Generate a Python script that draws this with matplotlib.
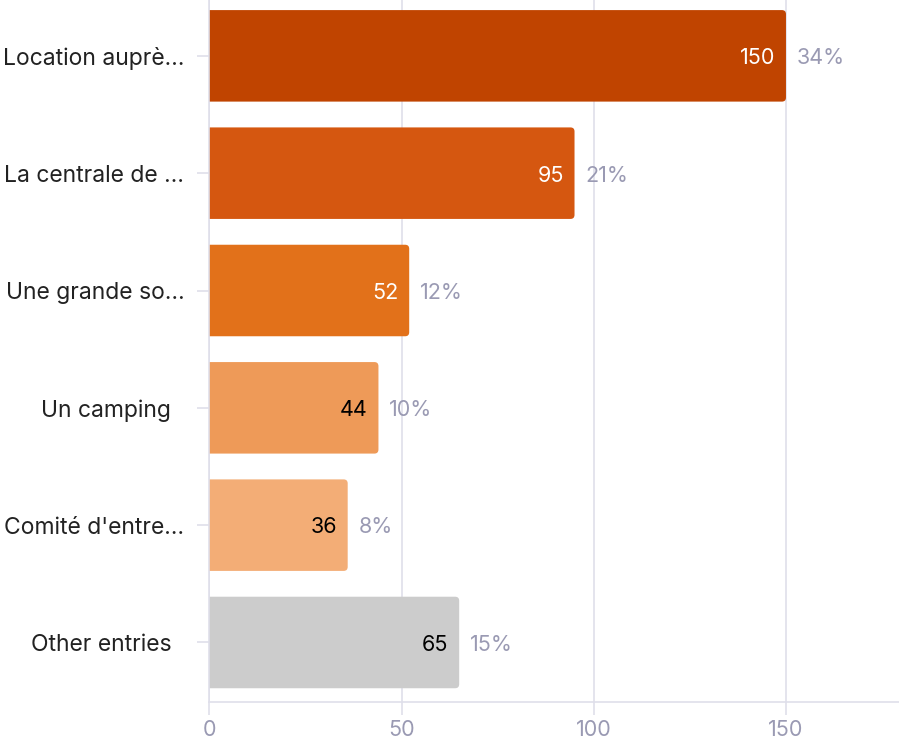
import numpy as np
import matplotlib
matplotlib.use("Agg")
import matplotlib.pyplot as plt
import matplotlib.transforms as mtransforms
from matplotlib.patches import FancyBboxPatch

categories = ["Location auprè…", "La centrale de …", "Une grande so…",
              "Un camping  ", "Comité d'entre…", "Other entries  "]
values = [150, 95, 52, 44, 36, 65]
percents = ["34%", "21%", "12%", "10%", "8%", "15%"]
colors = ["#c04400", "#d55710", "#e2711a", "#ee9a58", "#f3ad76", "#cccccc"]
value_colors = ["white", "white", "white", "black", "black", "black"]
xticks = [0, 50, 100, 150]

plt.rcParams["font.family"] = ["Inter", "DejaVu Sans"]
grid_c = "#dfdfea"
tick_c = "#9a9ab3"

fig = plt.figure(figsize=(8.99, 7.40), dpi=100)
ax = fig.add_axes([0.2328, 0.0514, 1 - 0.2328, 0.9486])
ax.set_xlim(0, 179.4)
ax.set_ylim(5.507, -0.476)

h = 0.78
r = 1.05
dy = 0.02  # text sits a touch below bar centre
for i, (v, c) in enumerate(zip(values, colors)):
    # start left of the axis so the left corners get clipped away
    ax.add_patch(FancyBboxPatch((-3 * r, i - h / 2), v + 3 * r, h,
                                boxstyle=f"round,pad=0,rounding_size={r}",
                                mutation_aspect=0.033, fc=c, ec="none",
                                zorder=3))
    ax.text(v - 2.8, i + dy, str(v), ha="right", va="center", fontsize=15.5,
            color=value_colors[i], zorder=4)
    ax.text(v + 2.8, i + dy, percents[i], ha="left", va="center", fontsize=15.5,
            color=tick_c, zorder=4)

ax.set_xticks(xticks)
ax.set_yticks(range(len(categories)))
ax.set_yticklabels(categories, fontsize=16.5, color="#222222")
shift = mtransforms.ScaledTranslation(0, -2 / 72, fig.dpi_scale_trans)
for lab in ax.get_yticklabels():
    lab.set_transform(lab.get_transform() + shift)
ax.tick_params(axis="x", colors=grid_c, labelcolor=tick_c, labelsize=15.5,
               length=9, width=1.2, pad=4)
ax.tick_params(axis="y", colors=grid_c, labelcolor="#222222",
               length=9, width=1.2, pad=9)
ax.grid(axis="x", color=grid_c, lw=1.2, zorder=0)
for s in ["top", "right"]:
    ax.spines[s].set_visible(False)
ax.spines["left"].set_color(grid_c)
ax.spines["bottom"].set_color(grid_c)
ax.spines["left"].set_linewidth(1.2)
ax.spines["bottom"].set_linewidth(1.2)
ax.spines["left"].set_zorder(5)

fig.savefig("out.png", dpi=100)
